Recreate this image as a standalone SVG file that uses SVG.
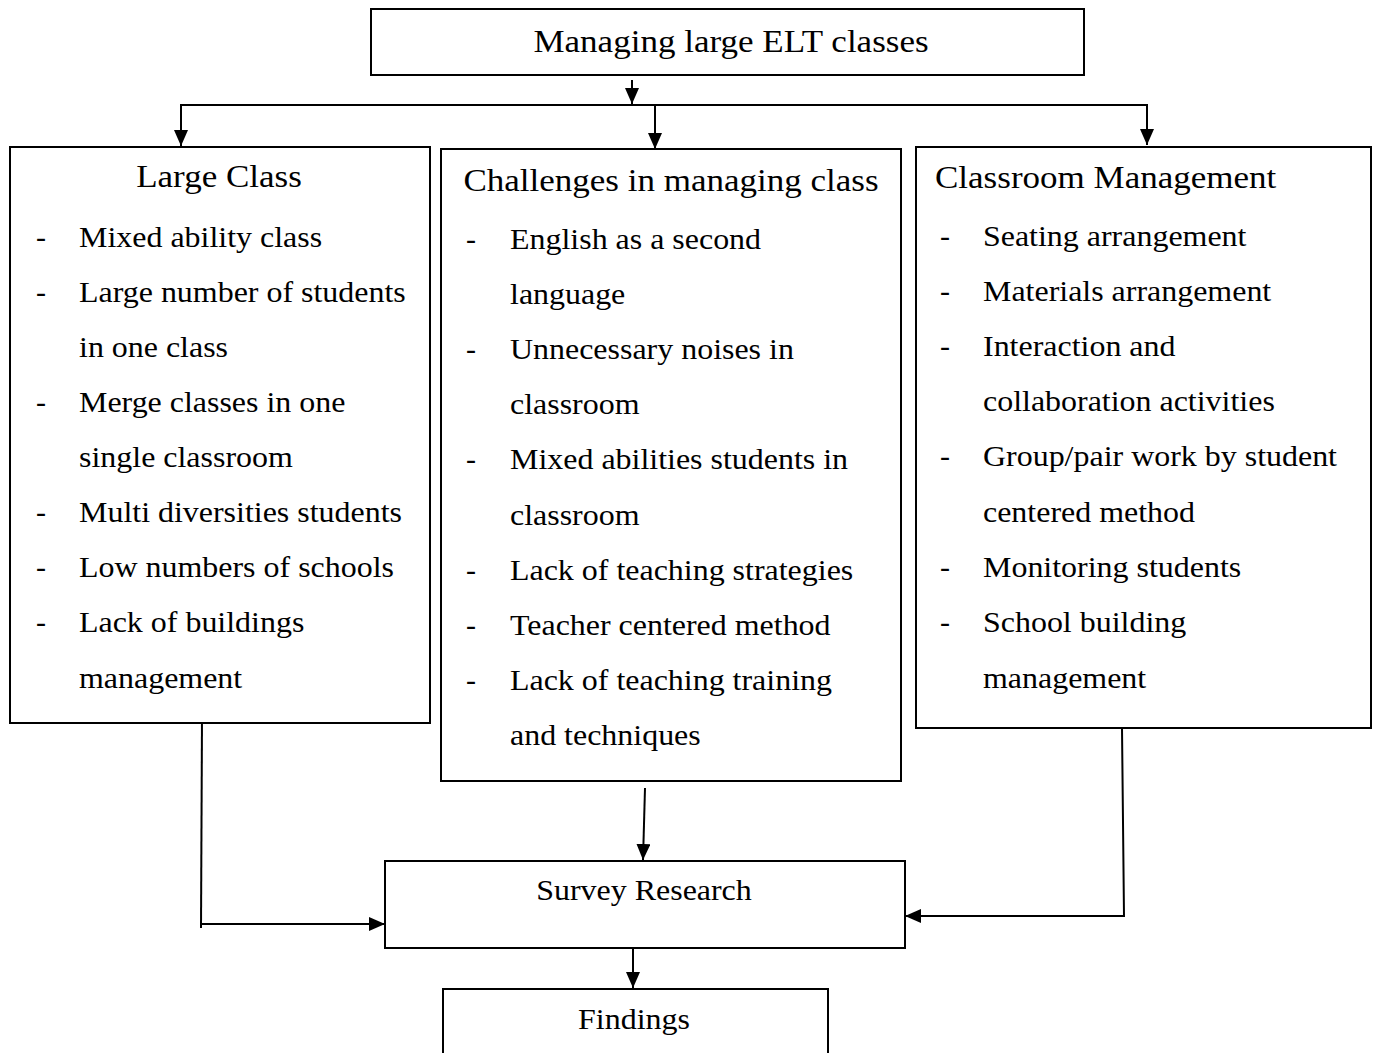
<svg xmlns="http://www.w3.org/2000/svg" width="1378" height="1053" viewBox="0 0 1378 1053">
<style>
.box{fill:#fff;stroke:#000;stroke-width:2}
.t{font-family:"Liberation Serif","Times New Roman",serif;font-size:30px;fill:#000}
.h{font-family:"Liberation Serif","Times New Roman",serif;font-size:31px;fill:#000}
.c{text-anchor:middle}
.ln{fill:none;stroke:#000;stroke-width:2}
</style>
<defs>
<marker id="ah" markerWidth="16" markerHeight="14" refX="16" refY="7" orient="auto" markerUnits="userSpaceOnUse">
<path d="M0,0 L16,7 L0,14 Z" fill="#000"/>
</marker>
</defs>
<rect width="1378" height="1053" fill="#fff"/>
<g id="connectors">
<line class="ln" x1="632" y1="80" x2="632" y2="104" marker-end="url(#ah)"/>
<polyline class="ln" points="181,145 181,105 1147,105 1147,145" marker-end="url(#ah)"/>
<line class="ln" x1="181" y1="105" x2="181" y2="146" marker-end="url(#ah)"/>
<line class="ln" x1="655" y1="105" x2="655" y2="149" marker-end="url(#ah)"/>
<polyline class="ln" points="202,718 201,928"/>
<polyline class="ln" points="201,924 385,924" marker-end="url(#ah)"/>
<line class="ln" x1="645" y1="788" x2="643" y2="860" marker-end="url(#ah)"/>
<polyline class="ln" points="1122,728 1124,916 905,916" marker-end="url(#ah)"/>
<line class="ln" x1="633" y1="948" x2="633" y2="988" marker-end="url(#ah)"/>
</g>
<g id="top">
<rect class="box" x="371" y="9" width="713" height="66"/>
<text class="h c" transform="translate(731,52) scale(1.13,1)">Managing large ELT classes</text>
</g>
<g id="large-class">
<rect class="box" x="10" y="147" width="420" height="576"/>
<text class="h c" transform="translate(219,187) scale(1.13,1)">Large Class</text>
<g class="t">
<text x="36" y="247">-</text><text x="36" y="302">-</text><text x="36" y="412">-</text><text x="36" y="522">-</text><text x="36" y="577">-</text><text x="36" y="632">-</text>
</g>
<g class="t" transform="translate(79,0) scale(1.065,1)">
<text x="0" y="247">Mixed ability class</text>
<text x="0" y="302">Large number of students</text>
<text x="0" y="357">in one class</text>
<text x="0" y="412">Merge classes in one</text>
<text x="0" y="467">single classroom</text>
<text x="0" y="522">Multi diversities students</text>
<text x="0" y="577">Low numbers of schools</text>
<text x="0" y="632">Lack of buildings</text>
<text x="0" y="688">management</text>
</g>
</g>
<g id="challenges">
<rect class="box" x="441" y="149" width="460" height="632"/>
<text class="h c" transform="translate(671,191) scale(1.13,1)">Challenges in managing class</text>
<g class="t">
<text x="466" y="249">-</text><text x="466" y="359">-</text><text x="466" y="469">-</text><text x="466" y="580">-</text><text x="466" y="635">-</text><text x="466" y="690">-</text>
</g>
<g class="t" transform="translate(510,0) scale(1.065,1)">
<text x="0" y="249">English as a second</text>
<text x="0" y="304">language</text>
<text x="0" y="359">Unnecessary noises in</text>
<text x="0" y="414">classroom</text>
<text x="0" y="469">Mixed abilities students in</text>
<text x="0" y="525">classroom</text>
<text x="0" y="580">Lack of teaching strategies</text>
<text x="0" y="635">Teacher centered method</text>
<text x="0" y="690">Lack of teaching training</text>
<text x="0" y="745">and techniques</text>
</g>
</g>
<g id="classroom-management">
<rect class="box" x="916" y="147" width="455" height="581"/>
<text class="h" transform="translate(935,188) scale(1.13,1)">Classroom Management</text>
<g class="t">
<text x="940" y="246">-</text><text x="940" y="301">-</text><text x="940" y="356">-</text><text x="940" y="466">-</text><text x="940" y="577">-</text><text x="940" y="632">-</text>
</g>
<g class="t" transform="translate(983,0) scale(1.065,1)">
<text x="0" y="246">Seating arrangement</text>
<text x="0" y="301">Materials arrangement</text>
<text x="0" y="356">Interaction and</text>
<text x="0" y="411">collaboration activities</text>
<text x="0" y="466">Group/pair work by student</text>
<text x="0" y="522">centered method</text>
<text x="0" y="577">Monitoring students</text>
<text x="0" y="632">School building</text>
<text x="0" y="688">management</text>
</g>
</g>
<g id="survey">
<rect class="box" x="385" y="861" width="520" height="87"/>
<text class="t c" transform="translate(644,900) scale(1.065,1)">Survey Research</text>
</g>
<g id="findings">
<rect class="box" x="443" y="989" width="385" height="70"/>
<text class="t c" transform="translate(634,1029) scale(1.065,1)">Findings</text>
</g>
</svg>
